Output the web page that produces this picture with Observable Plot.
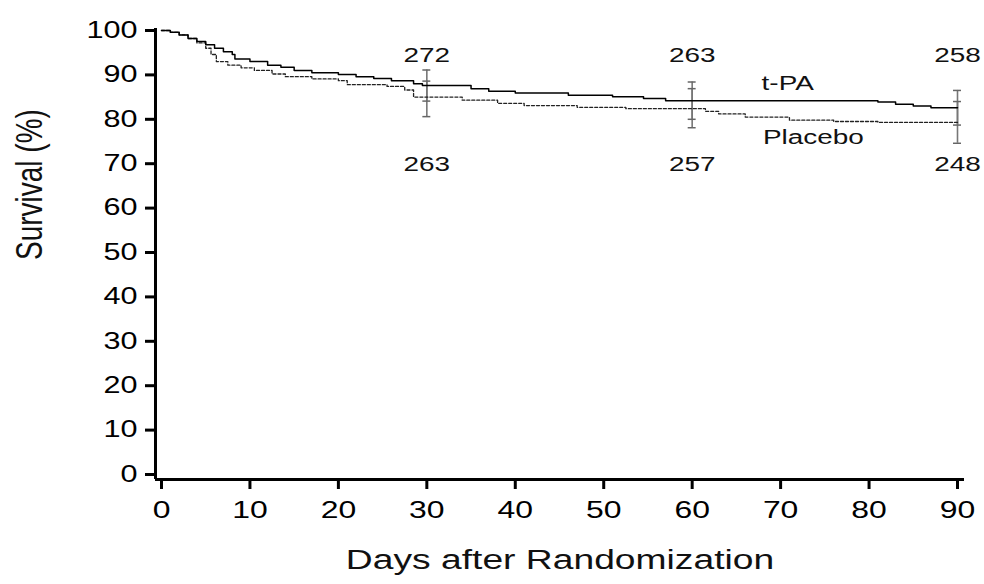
<!DOCTYPE html>
<html>
<head>
<meta charset="utf-8">
<script src="https://cdn.jsdelivr.net/npm/d3@7"></script>
<script src="https://cdn.jsdelivr.net/npm/@observablehq/plot@0.6"></script>
<style>
  html, body { margin: 0; padding: 0; background: #fff; }
  #chart { width: 984px; height: 584px; }
</style>
</head>
<body>
<div id="chart"></div>
<script>
// ---- Data ----
const xTicks = [0, 10, 20, 30, 40, 50, 60, 70, 80, 90];
const yTicks = [0, 10, 20, 30, 40, 50, 60, 70, 80, 90, 100];

const tpaDays = [0, 1, 2, 3, 4, 5, 6, 7, 8, 8.3, 10, 12, 13.5, 15, 17, 20, 22, 24, 26, 28.5, 29.5, 35, 37, 40, 46, 51, 54.5, 57, 81, 83, 85, 87, 90];
const tpaSurv = [100, 99.6, 99, 98.2, 97.5, 96.8, 96, 95.2, 94.6, 93.6, 93, 92.2, 91.7, 91, 90.5, 90.1, 89.6, 89.2, 88.7, 88, 87.6, 86.9, 86.3, 85.9, 85.4, 85.1, 84.7, 84.2, 83.9, 83.4, 83, 82.6, 82.6];

const placeboDays = [0, 1, 2, 3, 4, 5, 5.6, 6.2, 7.5, 9, 10.5, 12.5, 14, 17, 20, 21, 25.5, 27.5, 28.5, 34, 38, 41, 47, 52.5, 61.5, 63, 66, 71, 76, 81, 90];
const placeboSurv = [100, 99.6, 99, 98.2, 97.2, 96, 94.6, 93, 92.2, 91.6, 91, 90.2, 89.6, 89.1, 88.7, 87.8, 87.4, 86.6, 85, 84.3, 83.6, 83.1, 82.7, 82.4, 81.8, 81.2, 80.5, 79.8, 79.5, 79.3, 79.3];

const ciDays = [30, 60, 90];
const tpaLo = [84.1, 80.0, 78.7];
const tpaHi = [91.1, 88.4, 86.5];
const placeboLo = [80.6, 78.1, 74.6];
const placeboHi = [88.6, 86.9, 84.0];

const countsAbove = [272, 263, 258];   // t-PA at risk
const countsBelow = [263, 257, 248];   // placebo at risk
const countAboveY = 94.5;
const countBelowY = 69.8;

const seriesLabels = ["t-PA", "Placebo"];
const seriesLabelDay = [70.8, 73.7];
const seriesLabelSurv = [88.2, 75.9];

const xTitle = "Days after Randomization";
const yTitle = "Survival (%)";

// ---- Build tables ----
const tpa = tpaDays.map((d, i) => ({day: d, surv: tpaSurv[i]}));
const placebo = placeboDays.map((d, i) => ({day: d, surv: placeboSurv[i]}));
const ci = [];
ciDays.forEach((d, i) => {
  ci.push({day: d, lo: tpaLo[i], hi: tpaHi[i]});
  ci.push({day: d, lo: placeboLo[i], hi: placeboHi[i]});
});
const caps = ci.flatMap(r => [{day: r.day, v: r.lo}, {day: r.day, v: r.hi}]);
const above = ciDays.map((d, i) => ({day: d, v: countAboveY, t: String(countsAbove[i])}));
const below = ciDays.map((d, i) => ({day: d, v: countBelowY, t: String(countsBelow[i])}));
const labels = seriesLabels.map((s, i) => ({day: seriesLabelDay[i], v: seriesLabelSurv[i], t: s}));

const font = "'Liberation Sans', Arial, Helvetica, sans-serif";

const svg = Plot.plot({
  width: 984,
  height: 584,
  marginLeft: 155,
  marginRight: 20,
  marginTop: 28,
  marginBottom: 105,
  style: {fontFamily: font, background: "#fff", color: "#000"},
  x: {domain: [0, 90], insetLeft: 6, insetRight: 7},
  y: {domain: [0, 100], insetTop: 2, insetBottom: 5},
  marks: [
    Plot.ruleY([0], {dy: 5, strokeWidth: 3}),
    Plot.ruleX([0], {dx: -6, strokeWidth: 3}),
    Plot.axisX({ticks: xTicks, tickSize: 10, tickPadding: 11, strokeWidth: 3, fontSize: 24, label: null, tickFormat: d => String(d)}),
    Plot.axisY({ticks: yTicks, tickSize: 10, tickPadding: 8, strokeWidth: 3, fontSize: 23, label: null, tickFormat: d => String(d)}),
    Plot.ruleX(ci, {x: "day", y1: "lo", y2: "hi", stroke: "#777", strokeWidth: 1.6}),
    Plot.ruleY(caps, {y: "v", x1: d => d.day - 0.45, x2: d => d.day + 0.45, stroke: "#666", strokeWidth: 1.5}),
    Plot.line(placebo, {x: "day", y: "surv", curve: "step-after", stroke: "#222", strokeWidth: 1.3, strokeDasharray: "3,2"}),
    Plot.line(tpa, {x: "day", y: "surv", curve: "step-after", stroke: "#000", strokeWidth: 1.5}),
    Plot.text(above, {x: "day", y: "v", text: "t", fontSize: 21, fill: "#111"}),
    Plot.text(below, {x: "day", y: "v", text: "t", fontSize: 21, fill: "#111"}),
    Plot.text(labels, {x: "day", y: "v", text: "t", fontSize: 21, fill: "#111"}),
    Plot.text([xTitle], {frameAnchor: "bottom", dy: 89, fontSize: 28, fill: "#111"}),
    Plot.text([yTitle], {frameAnchor: "left", dx: -125, dy: 6, rotate: -90, fontSize: 28, fill: "#111"})
  ]
});

document.getElementById("chart").append(svg);

// The reference's lettering is horizontally stretched; widen each glyph run
// about its own anchor point (the text's local origin).
const STRETCH = 1.33;
const isNum = v => v != null && /^\s*-?[\d.]+(e-?\d+)?\s*$/.test(v);
svg.querySelectorAll("text").forEach(t => {
  const tr = t.getAttribute("transform") || "";
  const xa = t.getAttribute("x");
  const ya = t.getAttribute("y");
  let tx = 0, ty = 0;
  if (isNum(xa)) { tx = +xa; t.removeAttribute("x"); }
  if (isNum(ya)) { ty = +ya; t.removeAttribute("y"); }
  const move = (tx || ty) ? ` translate(${tx},${ty})` : "";
  if (tr.includes("rotate")) {
    // after rotate(-90), local y runs along the screen's x direction
    t.setAttribute("transform", `${tr}${move} scale(1,${STRETCH})`);
  } else {
    t.setAttribute("transform", `${tr}${move} scale(${STRETCH},1)`);
  }
});
</script>
</body>
</html>
